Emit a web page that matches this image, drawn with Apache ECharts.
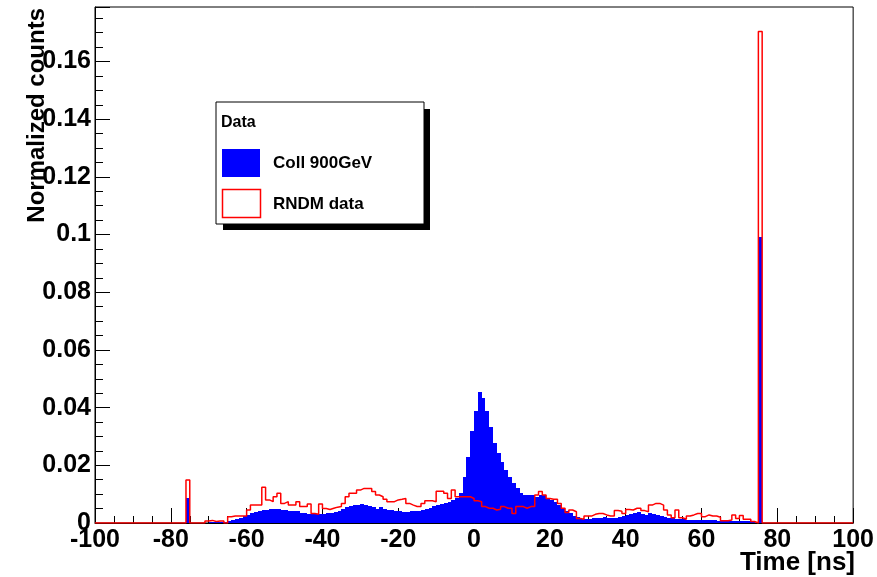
<!DOCTYPE html>
<html>
<head>
<meta charset="utf-8">
<title>Time distribution</title>
<script src="https://cdn.jsdelivr.net/npm/echarts@6/dist/echarts.min.js"></script>
<style>
  html, body { margin: 0; padding: 0; background: #fff; }
  #chart { width: 877px; height: 577px; }
</style>
</head>
<body>
<div id="chart"></div>
<script>
// Histogram binning: 200 bins of 1 ns from -100 ns to 100 ns
const BIN_START = -100;
const BIN_WIDTH = 1;

const SERIES_NAMES = ['Coll 900GeV', 'RNDM data'];
const LEGEND_HEADER = 'Data';
const X_TITLE = 'Time [ns]';
const Y_TITLE = 'Normalized counts';

// Collision data, normalized counts per bin (bins -100 .. 99)
const collCounts = [
  0, 0, 0, 0, 0, 0, 0, 0, 0, 0,
  0, 0, 0, 0, 0, 0, 0, 0, 0, 0,
  0, 0, 0, 0, 0.0088, 0, 0, 0, 0, 0.0001,
  0.0002, 0.0002, 0.0003, 0.0003, 0.0005, 0.0006, 0.0010, 0.0014, 0.0019, 0.0024,
  0.0029, 0.0035, 0.0039, 0.0042, 0.0045, 0.0046, 0.0048, 0.0050, 0.0049, 0.0046,
  0.0044, 0.0042, 0.0040, 0.0040, 0.0036, 0.0034, 0.0032, 0.0031, 0.0030, 0.0031,
  0.0032, 0.0033, 0.0034, 0.0039, 0.0041, 0.0049, 0.0055, 0.0058, 0.0061, 0.0064,
  0.0066, 0.0062, 0.0059, 0.0055, 0.0050, 0.0056, 0.0050, 0.0046, 0.0044, 0.0041,
  0.0040, 0.0039, 0.0039, 0.0040, 0.0041, 0.0043, 0.0045, 0.0049, 0.0053, 0.0058,
  0.0062, 0.0066, 0.0069, 0.0074, 0.0080, 0.0086, 0.0103, 0.0158, 0.0230, 0.0320,
  0.0390, 0.0453, 0.0435, 0.0390, 0.0334, 0.0276, 0.0241, 0.0212, 0.0184, 0.0160,
  0.0137, 0.0120, 0.0103, 0.0097, 0.0097, 0.0097, 0.0091, 0.0097, 0.0097, 0.0085,
  0.0080, 0.0074, 0.0062, 0.0051, 0.0042, 0.0035, 0.0026, 0.0020, 0.0014, 0.0013,
  0.0014, 0.0016, 0.0016, 0.0019, 0.0020, 0.0019, 0.0016, 0.0017, 0.0022, 0.0025,
  0.0028, 0.0032, 0.0035, 0.0037, 0.0030, 0.0028, 0.0034, 0.0032, 0.0028, 0.0026,
  0.0020, 0.0019, 0.0016, 0.0015, 0.0013, 0.0013, 0.0012, 0.0010, 0.0011, 0.0010,
  0.0009, 0.0010, 0.0010, 0.0009, 0.0008, 0.0008, 0.0007, 0.0008, 0.0008, 0.0007,
  0.0008, 0.0007, 0.0006, 0.0002, 0, 0.0990, 0, 0, 0, 0,
  0, 0, 0, 0, 0, 0, 0, 0, 0, 0,
  0, 0, 0, 0, 0, 0, 0, 0, 0, 0
];

// Random-trigger data, normalized counts per bin (bins -100 .. 99)
const rndmCounts = [
  0, 0, 0, 0, 0, 0, 0, 0, 0, 0,
  0, 0, 0, 0, 0, 0, 0, 0, 0, 0,
  0, 0, 0, 0, 0.0149, 0, 0, 0, 0, 0.0007,
  0.0009, 0.0005, 0.0007, 0.0007, 0, 0.0022, 0.0024, 0.0024, 0.0024, 0.0024,
  0.0045, 0.0062, 0.0062, 0.0062, 0.0124, 0.0080, 0.0074, 0.0091, 0.0103, 0.0068,
  0.0074, 0.0062, 0.0062, 0.0074, 0.0057, 0.0057, 0.0066, 0.0033, 0.0030, 0.0066,
  0.0050, 0.0047, 0.0051, 0.0055, 0.0057, 0.0068, 0.0091, 0.0103, 0.0103, 0.0114,
  0.0120, 0.0120, 0.0120, 0.0109, 0.0097, 0.0091, 0.0082, 0.0074, 0.0074, 0.0080,
  0.0082, 0.0085, 0.0068, 0.0062, 0.0057, 0.0057, 0.0068, 0.0077, 0.0077, 0.0074,
  0.0110, 0.0110, 0.0103, 0.0085, 0.0114, 0.0091, 0.0091, 0.0091, 0.0091, 0.0085,
  0.0077, 0.0074, 0.0057, 0.0051, 0.0051, 0.0045, 0.0048, 0.0057, 0.0051, 0.0051,
  0.0033, 0.0057, 0.0057, 0.0051, 0.0057, 0.0057, 0.0097, 0.0109, 0.0097, 0.0085,
  0.0082, 0.0082, 0.0068, 0.0051, 0.0036, 0.0045, 0.0039, 0.0016, 0.0013, 0.0024,
  0.0024, 0.0030, 0.0033, 0.0033, 0.0028, 0.0024, 0.0024, 0.0043, 0.0041, 0.0033,
  0.0047, 0.0045, 0.0051, 0.0051, 0.0043, 0.0039, 0.0062, 0.0068, 0.0068, 0.0062,
  0.0045, 0.0028, 0.0018, 0.0045, 0.0018, 0.0013, 0.0024, 0.0028, 0.0033, 0.0033,
  0.0022, 0.0028, 0.0024, 0.0024, 0.0020, 0.0008, 0.0008, 0.0010, 0.0028, 0.0016,
  0.0026, 0.0013, 0.0013, 0.0005, 0, 0.1704, 0, 0, 0, 0,
  0, 0, 0, 0, 0, 0, 0, 0, 0, 0,
  0, 0, 0, 0, 0, 0, 0, 0, 0, 0
];

const X_MIN = -100, X_MAX = 100, X_STEP = 20;
const Y_MIN = 0, Y_MAX = 0.1789, Y_STEP = 0.02;

// Bins as [low edge, high edge, content] for the filled boxes
function histBins(counts) {
  return counts.map((v, i) => [BIN_START + i * BIN_WIDTH, BIN_START + (i + 1) * BIN_WIDTH, v]);
}

// Step-line points at bin lower edges, closing at the upper edge of the last bin
function histPoints(counts) {
  const pts = counts.map((v, i) => [BIN_START + i * BIN_WIDTH, v]);
  pts.push([BIN_START + counts.length * BIN_WIDTH, 0]);
  return pts;
}

const FONT = '"Liberation Sans", Arial, Helvetica, sans-serif';
const BLUE = '#0000ff';
const RED = '#ff0000';

const chart = echarts.init(document.getElementById('chart'), null, { renderer: 'canvas' });

const axisLabelStyle = {
  color: '#000',
  fontFamily: FONT,
  fontWeight: 'bold',
  fontSize: 25
};

// Filled histogram box for one bin, snapped to whole pixels so neighbours meet cleanly
function renderBinBox(params, api) {
  const v = api.value(2);
  if (!(v > 0)) return null;
  const p0 = api.coord([api.value(0), 0]);
  const p1 = api.coord([api.value(1), v]);
  const x0 = Math.round(p0[0]), x1 = Math.round(p1[0]);
  const yb = Math.round(p0[1]), yt = Math.round(p1[1]);
  return {
    type: 'rect',
    shape: { x: x0, y: yt, width: x1 - x0, height: yb - yt },
    style: { fill: BLUE, stroke: null }
  };
}

chart.setOption({
  animation: false,
  backgroundColor: '#fff',
  grid: {
    left: 95, right: 22, top: 7, bottom: 54,
    show: true, borderColor: '#000', borderWidth: 1, backgroundColor: '#fff'
  },
  xAxis: {
    type: 'value',
    min: X_MIN, max: X_MAX, interval: X_STEP,
    axisLine: { show: true, onZero: false, lineStyle: { color: '#000', width: 1 } },
    axisTick: { show: true, inside: true, length: 15, lineStyle: { color: '#000', width: 1 } },
    minorTick: { show: true, splitNumber: 4, length: 7, lineStyle: { color: '#000', width: 1 } },
    splitLine: { show: false },
    axisLabel: Object.assign({ margin: 5 }, axisLabelStyle)
  },
  yAxis: {
    type: 'value',
    min: Y_MIN, max: Y_MAX, interval: Y_STEP,
    axisLine: { show: true, onZero: false, lineStyle: { color: '#000', width: 1 } },
    axisTick: { show: true, inside: true, length: 15, lineStyle: { color: '#000', width: 1 } },
    minorTick: { show: true, splitNumber: 4, length: 8, lineStyle: { color: '#000', width: 1 } },
    splitLine: { show: false },
    axisLabel: Object.assign({
      margin: 4,
      showMinLabel: true,
      showMaxLabel: false,
      formatter: v => {
        const r = Math.round(v / Y_STEP);
        if (Math.abs(v - r * Y_STEP) > 1e-9) return '';
        return String(+(r * Y_STEP).toFixed(3));
      }
    }, axisLabelStyle)
  },
  series: [
    {
      name: SERIES_NAMES[0],
      type: 'custom',
      data: histBins(collCounts),
      encode: { x: [0, 1], y: 2 },
      renderItem: renderBinBox,
      silent: true,
      clip: true,
      z: 2
    },
    {
      name: SERIES_NAMES[1],
      type: 'line',
      step: 'end',
      data: histPoints(rndmCounts),
      symbol: 'none',
      silent: true,
      lineStyle: { color: RED, width: 1.5 },
      z: 3
    }
  ],
  graphic: [
    // axis titles
    {
      type: 'text', x: 855, y: 563, z: 10,
      style: { text: X_TITLE, font: 'bold 26px ' + FONT, fill: '#000', align: 'right', verticalAlign: 'middle' }
    },
    {
      type: 'text', x: 37, y: 8, rotation: Math.PI / 2, z: 10,
      style: { text: Y_TITLE, font: 'bold 24px ' + FONT, fill: '#000', align: 'right', verticalAlign: 'middle' }
    },
    // legend box with drop shadow
    { type: 'rect', shape: { x: 223, y: 109, width: 207, height: 121 }, style: { fill: '#000' }, z: 20 },
    { type: 'rect', shape: { x: 216, y: 102, width: 208, height: 122 }, style: { fill: '#fff', stroke: '#000', lineWidth: 1 }, z: 21 },
    {
      type: 'text', x: 221, y: 123, z: 22,
      style: { text: LEGEND_HEADER, font: 'bold 16px ' + FONT, fill: '#000', verticalAlign: 'middle' }
    },
    { type: 'rect', shape: { x: 222, y: 149, width: 38, height: 28 }, style: { fill: BLUE }, z: 22 },
    {
      type: 'text', x: 273, y: 163, z: 22,
      style: { text: SERIES_NAMES[0], font: 'bold 17px ' + FONT, fill: '#000', verticalAlign: 'middle' }
    },
    { type: 'rect', shape: { x: 222.5, y: 189.5, width: 38, height: 28 }, style: { fill: '#fff', stroke: RED, lineWidth: 1.5 }, z: 22 },
    {
      type: 'text', x: 273, y: 204, z: 22,
      style: { text: SERIES_NAMES[1], font: 'bold 17px ' + FONT, fill: '#000', verticalAlign: 'middle' }
    }
  ]
});
</script>
</body>
</html>
